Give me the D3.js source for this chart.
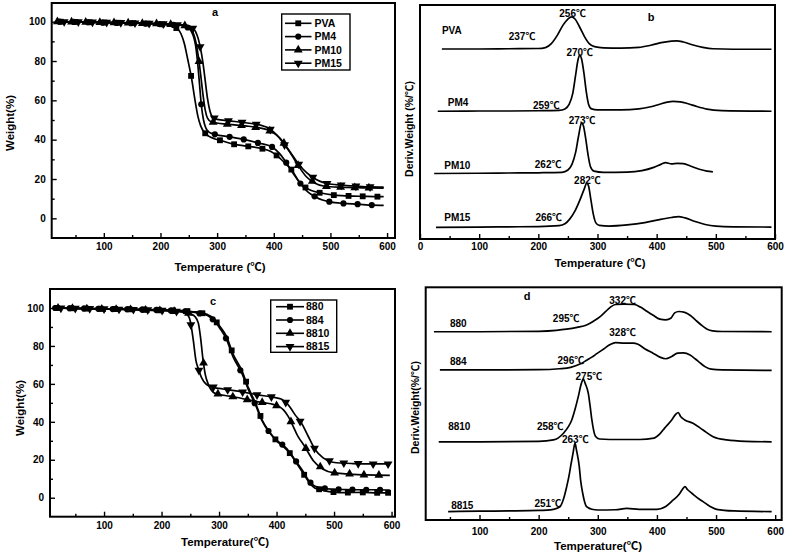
<!DOCTYPE html>
<html><head><meta charset="utf-8">
<script src="https://cdn.jsdelivr.net/npm/d3@7"></script>
<style>
body{margin:0;background:#fff}
svg{display:block}
text{font-family:"Liberation Sans",Arial,"Noto Sans CJK SC",sans-serif;font-weight:bold;fill:#000}
</style>
</head><body>
<svg id="chart" width="789" height="554"></svg>
<script>
// ---------- Panel a: TGA (temperature, weight %) ----------
const seriesA = ["PVA","PM4","PM10","PM15"];
const pvaTGA = [[20,100],[60,99.8],[100,99.6],[150,99.3],[200,98.8],[220,97.8],[230,96.5],[236,94],[242,89],[248,81],[255,71],[261,60],[266,52],[271,47],[278,43.5],[285,41.8],[295,40.5],[305,39.7],[329,37.7],[355,36.6],[379,35.5],[395,34],[405,32],[420,28],[432,24.5],[445,18.5],[454,16],[465,14.3],[481,13],[506,11.8],[532,11.4],[556,11.2],[587,11],[594,11]];
const pm4TGA = [[20,100],[60,99.8],[100,99.5],[150,99.2],[200,98.8],[240,98],[250,96.8],[257,93.5],[262,88],[266,78],[269,68],[272,58],[276,50],[280,46],[285,44],[296,42.7],[323,41.4],[349,40],[373,38.3],[397,36.3],[410,33],[423,27.9],[435,22.5],[447,17.7],[460,13.5],[473,11],[486,9.3],[499,8.4],[523,7.6],[548,7.2],[574,6.7],[594,6.6]];
const pm10TGA = [[20,100],[60,99.8],[100,99.6],[150,99.3],[200,98.9],[240,98.2],[250,97.5],[257,95],[263,89],[267,82],[271,73],[275,63],[279,55],[283,51],[290,49],[320,47.8],[350,47],[375,46],[395,44.3],[410,41],[420,37.5],[432,32],[445,26],[458,21],[472,18],[490,16.3],[520,15.8],[560,15.5],[594,15.4]];
const pm15TGA = [[20,100],[60,99.9],[100,99.7],[150,99.4],[200,99],[245,98.2],[255,97.3],[262,95],[267,91],[271,86],[275,79],[279,70],[283,61],[287,55],[292,51.5],[300,50.3],[320,49.6],[350,48.6],[375,47.5],[393,45.5],[405,42.5],[420,37],[432,32.5],[444,27.5],[457,23.5],[469,20.8],[482,18.8],[494,17.7],[520,16.9],[545,16.4],[570,16],[594,15.9]];
const pvaMarks = [24,50,75,101,126,152,177,203,228,254,279,305,330,355,380,405,431,456,481,506,532,557,583];
const pm4Marks = [22,47,72,98,122,148,173,198,223,248,272,296,322,347,372,397,422,447,472,498,523,548,573];
const pm10Marks = [18,43,68,93,118,143,168,193,218,243,268,293,318,343,368,393,418,443,468,493,518,543,568];
const pm15Marks = [30,55,80,105,130,155,180,205,230,257,270,295,320,344,369,394,419,444,469,494,519,545,570];

// ---------- Panel b: DTG (offset curves, arbitrary units) ----------
const pvaDTG = [[37,81.2],[100,81.2],[150,81.3],[200,81.4],[212,81.8],[222,83.5],[232,87],[242,91.5],[250,94],[256,94.9],[262,94],[270,90.5],[278,86.5],[286,83.5],[295,82.2],[310,81.7],[340,81.6],[370,81.9],[390,82.8],[410,84],[425,84.6],[434,84.7],[445,84.2],[460,83],[478,81.9],[495,81.3],[530,81.1],[594,81.1]];
const pm4DTG = [[30,54.6],[100,54.7],[150,54.7],[200,54.8],[235,55],[245,55.6],[252,57.5],[258,62],[263,70],[267,76.5],[270,78.6],[273,77],[277,71],[281,63],[285,57.5],[290,55.6],[300,55.2],[340,55.2],[370,55.6],[390,56.5],[405,57.6],[418,58.5],[428,58.8],[440,58.6],[452,57.9],[468,56.6],[485,55.5],[510,54.9],[594,54.6]];
const pm10DTG = [[24,28],[100,28.1],[150,28.2],[200,28.3],[240,28.5],[250,29.5],[257,32],[263,37],[268,44],[273,49.6],[276,48.5],[280,43],[284,36],[288,31],[294,29],[310,28.5],[350,28.6],[375,29.2],[395,30.6],[408,32],[415,32.6],[425,32.1],[435,32.3],[445,32.2],[458,31.1],[472,29.8],[485,29],[495,28.7]];
const pm15DTG = [[27,5],[100,5.1],[150,5.2],[200,5.3],[235,5.7],[245,6.5],[253,8.5],[262,12],[270,16.5],[277,21],[282,23.9],[285,22.5],[289,16.5],[293,10.5],[297,7],[303,5.8],[320,5.5],[350,6],[380,7],[405,8.3],[425,9.2],[437,9.6],[448,9],[465,7.5],[482,6.2],[500,5.5],[530,5.2],[594,5.1]];
const labelsB = [
  {t:"PVA",x:37,y:89,a:"start"},{t:"237℃",x:150,y:86.5,a:"start"},{t:"256℃",x:258,y:96.5,a:"middle"},
  {t:"PM4",x:47,y:58.5,a:"start"},{t:"259℃",x:191,y:57,a:"start"},{t:"270℃",x:270,y:79.5,a:"middle"},
  {t:"PM10",x:41,y:31.5,a:"start"},{t:"262℃",x:194,y:31.8,a:"start"},{t:"273℃",x:274,y:50.5,a:"middle"},
  {t:"PM15",x:41,y:9,a:"start"},{t:"266℃",x:195,y:9,a:"start"},{t:"282℃",x:283,y:25,a:"middle"}
];

// ---------- Panel c: TGA ----------
const seriesC = ["880","884","8810","8815"];
const s880TGA = [[15,100],[50,99.8],[100,99.6],[150,99.4],[200,99],[240,98.5],[255,98],[264,97.8],[280,96.5],[290,94.7],[301,90.5],[313,85],[324,76],[339,67.5],[351,58],[364,49.5],[374,41.5],[388,34.5],[400,30],[411,27.2],[423,23.5],[432,19.5],[446,13],[458,7.5],[467,5],[480,4],[498,3],[520,2.7],[550,2.8],[575,2.6],[597,2.6]];
const s884TGA = [[15,100],[50,99.8],[100,99.5],[150,99.3],[200,98.9],[240,98.3],[255,97.8],[264,97.3],[280,96],[290,93.8],[301,89.5],[313,83.5],[324,74.5],[339,66],[351,57],[364,48.5],[374,41],[388,34.2],[400,30.3],[411,27.8],[423,24],[432,20],[446,14],[458,8.2],[467,6],[480,5],[498,4.5],[520,4.3],[550,4.2],[575,4.2],[597,4]];
const s8810TGA = [[15,100],[50,99.7],[100,99.4],[150,99.1],[200,98.6],[240,97.8],[250,97],[258,95.5],[264,92],[268,84],[272,73],[276,65],[281,60],[287,56.5],[293,55],[319,53.5],[340,52.3],[360,51],[380,50],[394,49.2],[405,48],[412,46.3],[420,43],[426,39.5],[437,32.5],[449,27],[464,19.5],[481,15],[498,13.2],[522,12.6],[556,12],[597,11.8]];
const s8815TGA = [[15,100],[50,99.8],[100,99.5],[150,99.2],[200,98.8],[235,98],[245,96.5],[250,93],[255,83.5],[260,72],[264,68],[270,63],[277,60],[284,58.7],[300,57.6],[313,57],[340,55.8],[365,54.3],[394,53],[408,52],[418,49.8],[425,47],[432,43.8],[443,39.5],[455,32.4],[467,25.4],[481,21],[498,18.7],[533,18],[568,17.8],[597,17.8]];
const s880Marks = [18,43,68,94,119,144,170,195,220,245,271,296,322,347,372,398,423,448,474,499,524,550,575,594];
const s884Marks = [15,40,65,90,115,140,166,191,216,241,266,289,312,337,362,386,410,434,459,484,508,532,556,580];
const s8810Marks = [20,45,70,96,121,146,172,197,222,247,273,298,324,349,375,400,425,451,476,501,527,552,578];
const s8815Marks = [25,50,75,100,126,151,176,201,226,251,265,290,315,341,366,391,416,441,466,492,517,542,568,594];

// ---------- Panel d: DTG ----------
const s880DTG = [[23,80.9],[100,80.9],[200,81.1],[230,81.5],[247,82],[265,82.8],[281,83.8],[293,85.5],[304,87.4],[313,89.5],[322,91.6],[330,92.6],[345,92.8],[362,92.6],[372,91.5],[383,89.7],[393,88.1],[405,86.3],[415,86],[424,86.8],[430,89],[437,89.6],[447,89.2],[456,88],[465,86],[475,83.8],[485,82],[494,81.3],[510,81],[594,80.9]];
const s884DTG = [[33,64.5],[100,64.5],[200,64.6],[235,65],[254,65.6],[270,67],[282,68.8],[290,70],[299,71.6],[310,73.5],[321,75.4],[330,76.2],[345,76],[360,76],[368,75.5],[380,73.5],[394,71.6],[405,70],[415,69.3],[425,70.3],[435,71.7],[445,71.8],[456,70.9],[465,69.2],[473,67.5],[482,65.8],[492,64.8],[510,64.5],[594,64.3]];
const s8810DTG = [[31,33.6],[100,33.6],[200,33.8],[225,34.4],[242,37.3],[250,40],[256,43],[262,48],[267,53],[272,58.5],[275.5,60.5],[279,58.5],[284,54.4],[287,49],[290,43],[293,38.5],[296,36],[303,34.8],[320,34.6],[371,34.6],[395,35.2],[405,37],[413,39.5],[425,43],[432,45.5],[436,46.2],[440,44.5],[447,43],[461,41.6],[478,38.7],[495,35.8],[518,34.4],[550,33.8],[594,33.6]];
const s8815DTG = [[47,3.6],[100,3.8],[150,3.9],[200,4.1],[225,4.6],[236,5.7],[242,9],[247.4,14.3],[251,18.5],[254,22.9],[258,28.5],[261.5,33],[264,30],[268.7,22.9],[271,17],[274.5,11.5],[278,7.5],[281,5.7],[290,4.6],[300,4.3],[330,4.4],[349,5],[370,4.6],[400,4.6],[415,5.8],[427.7,8.6],[438,11.2],[444,13.5],[447.4,14.3],[452,13],[459,11.5],[468,9.6],[478,7.9],[490,5.8],[501,4.6],[530,3.9],[594,3.6]];
const labelsD = [
  {t:"880",x:50,y:84.5,a:"start"},{t:"295℃",x:224,y:86.5,a:"start"},{t:"332℃",x:342,y:94.2,a:"middle"},
  {t:"884",x:50,y:68,a:"start"},{t:"296℃",x:232,y:68.5,a:"start"},{t:"328℃",x:342,y:80.5,a:"middle"},
  {t:"8810",x:47,y:40,a:"start"},{t:"258℃",x:197,y:40,a:"start"},{t:"275℃",x:285,y:61.8,a:"middle"},
  {t:"8815",x:52,y:6.3,a:"start"},{t:"251℃",x:193,y:7,a:"start"},{t:"263℃",x:262,y:34.6,a:"middle"}
];

const xTicksA = [100,200,300,400,500,600], xMinorA = [50,150,250,350,450,550];
const yTicksA = [0,20,40,60,80,100], yMinorA = [10,30,50,70,90];
const xTicksB = [0,100,200,300,400,500,600];
const xTicksD = [100,200,300,400,500,600];

const svg = d3.select("#chart");
const shapes = [d3.symbolSquare, d3.symbolCircle, d3.symbolTriangle, d3.symbolTriangle];
const shapeSize = [34, 30, 34, 34];
const shapeRot = [0, 0, 0, 180];

function interp(data, t) {
  const i = d3.bisector(d => d[0]).left(data, t);
  if (i <= 0) return data[0][1];
  if (i >= data.length) return data[data.length - 1][1];
  const a = data[i - 1], b = data[i];
  return a[1] + (b[1] - a[1]) * (t - a[0]) / (b[0] - a[0]);
}

function makePanel(c) {
  const g = svg.append("g");
  const x = d3.scaleLinear().domain(c.xdom).range([c.x0, c.x1]);
  const y = d3.scaleLinear().domain(c.ydom).range([c.y1, c.y0]);
  const xa = g.append("g").attr("transform", `translate(0,${c.y1})`)
    .call(d3.axisBottom(x).tickValues(c.xticks).tickSize(-5).tickPadding(c.xpad).tickSizeOuter(0));
  g.append("g").attr("transform", `translate(0,${c.y1})`)
    .call(d3.axisBottom(x).tickValues(c.xminor).tickSize(-3).tickFormat("").tickSizeOuter(0))
    .select(".domain").remove();
  xa.select(".domain").remove();
  xa.selectAll("text").attr("font-size", 10).attr("font-family", null);
  if (c.yticks) {
    const ya = g.append("g").attr("transform", `translate(${c.x0},0)`)
      .call(d3.axisLeft(y).tickValues(c.yticks).tickSize(-5).tickPadding(6).tickSizeOuter(0));
    ya.select(".domain").remove();
    ya.selectAll("text").attr("font-size", 10).attr("font-family", null);
    g.append("g").attr("transform", `translate(${c.x0},0)`)
      .call(d3.axisLeft(y).tickValues(c.yminor).tickSize(-3).tickFormat("").tickSizeOuter(0))
      .select(".domain").remove();
  }
  g.selectAll(".tick line").attr("stroke", "#000").attr("stroke-width", 1.4);
  g.append("rect").attr("x", c.x0).attr("y", c.y0).attr("width", c.x1 - c.x0).attr("height", c.y1 - c.y0)
    .attr("fill", "none").attr("stroke", "#000").attr("stroke-width", 2);
  const line = d3.line().x(d => x(d[0])).y(d => y(d[1])).curve(d3.curveMonotoneX);
  c.series.forEach((s, i) => {
    g.append("path").datum(s).attr("d", line).attr("fill", "none").attr("stroke", "#000").attr("stroke-width", 1.7);
    if (c.marks) {
      g.selectAll(null).data(c.marks[i]).enter().append("path")
        .attr("d", d3.symbol().type(shapes[i]).size(shapeSize[i]))
        .attr("transform", t => `translate(${x(t)},${y(interp(s, t))}) rotate(${shapeRot[i]})`)
        .attr("fill", "#000");
    }
  });
  g.append("text").attr("x", c.xt[0]).attr("y", c.xt[1]).attr("text-anchor", "middle").attr("dy", "0.35em")
    .attr("font-size", 11.5).text(c.xtitle);
  g.append("text").attr("transform", `translate(${c.yt[0]},${c.yt[1]}) rotate(-90)`).attr("text-anchor", "middle")
    .attr("dy", "0.35em").attr("font-size", c.ytsize || 11.5).text(c.ytitle);
  g.append("text").attr("x", c.pl[0]).attr("y", c.pl[1]).attr("dy", "0.35em").attr("text-anchor", "middle")
    .attr("font-size", 11).text(c.plabel);
  if (c.labels) {
    g.selectAll(null).data(c.labels).enter().append("text")
      .attr("x", d => x(d.x)).attr("y", d => y(d.y)).attr("dy", "0.35em")
      .attr("text-anchor", d => d.a).attr("font-size", 10).text(d => d.t);
  }
  if (c.legend) {
    const L = c.legend;
    g.append("rect").attr("x", L.x).attr("y", L.y).attr("width", L.w).attr("height", L.h)
      .attr("fill", "#fff").attr("stroke", "#000").attr("stroke-width", 1.4);
    L.names.forEach((n, i) => {
      const yy = L.y + L.top + i * L.step;
      g.append("line").attr("x1", L.lx0).attr("x2", L.lx1).attr("y1", yy).attr("y2", yy)
        .attr("stroke", "#000").attr("stroke-width", 1.6);
      g.append("path").attr("d", d3.symbol().type(shapes[i]).size(shapeSize[i]))
        .attr("transform", `translate(${(L.lx0 + L.lx1) / 2},${yy}) rotate(${shapeRot[i]})`).attr("fill", "#000");
      g.append("text").attr("x", L.tx).attr("y", yy).attr("dy", "0.36em").attr("font-size", 10.5).text(n);
    });
  }
}

makePanel({x0:51.7, x1:395, y0:3, y1:238, xdom:[8,614], ydom:[-10,109.5],
  xticks:xTicksA, xminor:xMinorA, yticks:yTicksA, yminor:yMinorA, xpad:5,
  series:[pvaTGA, pm4TGA, pm10TGA, pm15TGA], marks:[pvaMarks, pm4Marks, pm10Marks, pm15Marks],
  xtitle:"Temperature (℃)", xt:[220,267], ytitle:"Weight(%)", yt:[10,123], plabel:"a", pl:[215,12],
  legend:{x:281.7, y:14, w:68.3, h:56, top:9.3, step:13.3, lx0:285, lx1:311.5, tx:314.5, names:seriesA}});

makePanel({x0:420, x1:775, y0:5, y1:239, xdom:[0,600], ydom:[0,100],
  xticks:xTicksB, xminor:xMinorA, xpad:4,
  series:[pvaDTG, pm4DTG, pm10DTG, pm15DTG],
  xtitle:"Temperature (℃)", xt:[600,263], ytitle:"Deriv.Weight (%/℃)", yt:[409,129], ytsize:10.5,
  plabel:"b", pl:[651,17], labels:labelsB});

makePanel({x0:50, x1:395, y0:289, y1:516.7, xdom:[6,606], ydom:[-10,110],
  xticks:xTicksA, xminor:xMinorA, yticks:yTicksA, yminor:yMinorA, xpad:5,
  series:[s880TGA, s884TGA, s8810TGA, s8815TGA], marks:[s880Marks, s884Marks, s8810Marks, s8815Marks],
  xtitle:"Temperature(℃)", xt:[225,541.7], ytitle:"Weight(%)", yt:[20,408], plabel:"c", pl:[213,300.7],
  legend:{x:270.7, y:300, w:66, h:52.3, top:6.7, step:13.3, lx0:276, lx1:304, tx:306, names:seriesC}});

makePanel({x0:425.7, x1:781.7, y0:287.3, y1:520, xdom:[9,611], ydom:[0,100],
  xticks:xTicksD, xminor:xMinorA, xpad:8,
  series:[s880DTG, s884DTG, s8810DTG, s8815DTG],
  xtitle:"Temperature(℃)", xt:[598,546], ytitle:"Deriv.Weight(%/℃)", yt:[415,407.5], ytsize:10.5,
  plabel:"d", pl:[527,296], labels:labelsD});
</script>
</body></html>
